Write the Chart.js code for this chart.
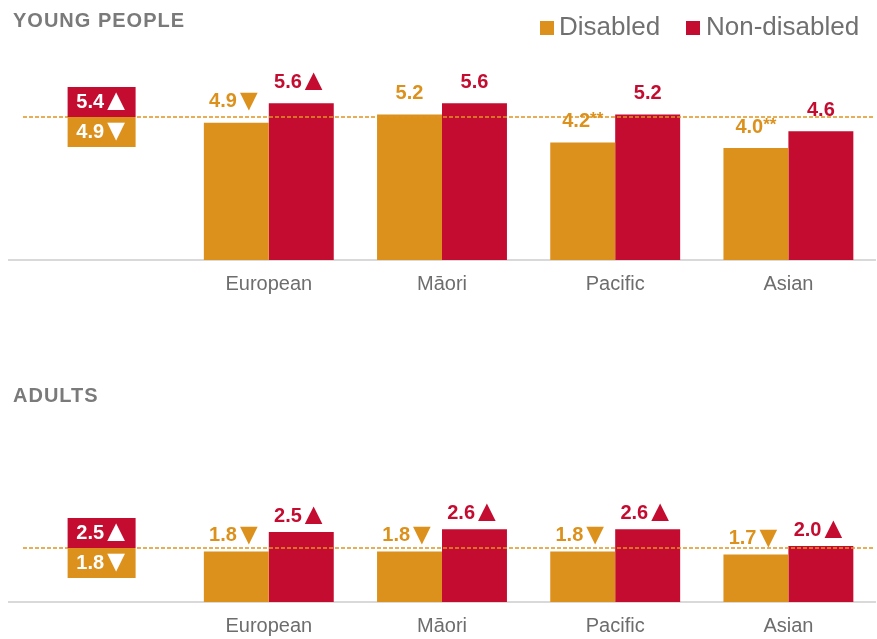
<!DOCTYPE html>
<html>
<head>
<meta charset="utf-8">
<script src="https://cdn.jsdelivr.net/npm/chart.js@4"></script>
<style>
    body { margin: 0; background: #fff; font-family: "Liberation Sans", Arial, sans-serif; }
    #page { position: relative; width: 877px; height: 639px; overflow: hidden; }
    .box { position: absolute; left: 0; width: 877px; height: 308px; }
    .title { position: absolute; left: 13px; font-weight: bold; font-size: 20px; letter-spacing: 1px; color: #7a7a7a; line-height: 24px; }
    .legend { position: absolute; top: 11px; font-size: 26px; color: #707070; line-height: 30px; }
    .swatch { position: absolute; top: 21px; width: 14px; height: 14px; }
</style>
</head>
<body>
<div id="page">
    <div class="box" style="top:0"><canvas id="youngChart" width="877" height="308"></canvas></div>
    <div class="box" style="top:342px"><canvas id="adultChart" width="877" height="308"></canvas></div>
    <div class="title" style="top:8px">YOUNG PEOPLE</div>
    <div class="title" style="top:383px">ADULTS</div>
    <div id="legend"></div>
</div>
<script>
// categories (first slot holds the overall boxes)
const categories = ['', 'European', 'Māori', 'Pacific', 'Asian']
const seriesNames = ['Disabled', 'Non-disabled']
const colors = ['#DC911C', '#C40C30']

// young people
const youngDisabled = [null, 4.9, 5.2, 4.2, 4.0]
const youngNonDisabled = [null, 5.6, 5.6, 5.2, 4.6]
const youngDisabledMarks = ['', '▼', '', '**', '**']
const youngNonDisabledMarks = ['', '▲', '', '', '']
const youngOverall = [4.9, 5.4]
const youngOverallMarks = ['▼', '▲']
const youngAverage = 5.1

// adults
const adultDisabled = [null, 1.8, 1.8, 1.8, 1.7]
const adultNonDisabled = [null, 2.5, 2.6, 2.6, 2.0]
const adultDisabledMarks = ['', '▼', '▼', '▼', '▼']
const adultNonDisabledMarks = ['', '▲', '▲', '▲', '▲']
const adultOverall = [1.8, 2.5]
const adultOverallMarks = ['▼', '▲']
const adultAverage = 1.93

const FONT = '"Liberation Sans", Arial, sans-serif'

// legend
const legend = document.getElementById('legend')
const legendX = [[540, 559], [686, 706]]
seriesNames.forEach((name, i) => {
    const sw = document.createElement('div')
    sw.className = 'swatch'
    sw.style.left = legendX[i][0] + 'px'
    sw.style.background = colors[i]
    legend.appendChild(sw)
    const t = document.createElement('div')
    t.className = 'legend'
    t.style.left = legendX[i][1] + 'px'
    t.textContent = name
    legend.appendChild(t)
})

function drawLabel(ctx, x, y, value, mark, color) {
    const num = value.toFixed(1)
    ctx.font = 'bold 20px ' + FONT
    const w1 = ctx.measureText(num).width
    let w2 = 0
    const gap = -3
    if (mark === '**') {
        ctx.font = 'bold 17px ' + FONT
        w2 = ctx.measureText(mark).width
    } else if (mark) {
        ctx.font = 'bold 30px ' + FONT
        w2 = ctx.measureText(mark).width + gap
    }
    const start = x - (w1 + w2) / 2
    ctx.fillStyle = color
    ctx.textAlign = 'left'
    ctx.textBaseline = 'middle'
    ctx.font = 'bold 20px ' + FONT
    ctx.fillText(num, start, y)
    if (mark === '**') {
        ctx.font = 'bold 17px ' + FONT
        ctx.fillText(mark, start + w1, y - 2)
    } else if (mark) {
        ctx.font = 'bold 30px ' + FONT
        ctx.fillText(mark, start + w1 + gap, y)
    }
}

const labelPlugin = {
    id: 'labels',
    afterDatasetsDraw(chart, args, opts) {
        const ctx = chart.ctx
        const area = chart.chartArea
        const x = chart.scales.x
        const y = chart.scales.y
        const lineY = Math.round(y.getPixelForValue(opts.average))

        ctx.save()
        // dashed average line
        ctx.strokeStyle = '#E0941F'
        ctx.lineWidth = 1.5
        ctx.setLineDash([4, 2])
        ctx.beginPath()
        ctx.moveTo(area.left + 14, lineY)
        ctx.lineTo(area.right, lineY)
        ctx.stroke()
        ctx.setLineDash([])

        // overall boxes
        const cx = x.getPixelForValue(0) + 6
        const bw = 68, bh = 30
        ctx.fillStyle = colors[1]
        ctx.fillRect(cx - bw / 2, lineY - bh, bw, bh)
        ctx.fillStyle = colors[0]
        ctx.fillRect(cx - bw / 2, lineY, bw, bh)
        drawLabel(ctx, cx + 2, lineY - bh / 2, opts.overall[1], opts.overallMarks[1], '#fff')
        drawLabel(ctx, cx + 2, lineY + bh / 2, opts.overall[0], opts.overallMarks[0], '#fff')

        // value labels above bars
        chart.data.datasets.forEach((ds, di) => {
            const meta = chart.getDatasetMeta(di)
            meta.data.forEach((bar, i) => {
                if (ds.data[i] == null) return
                drawLabel(ctx, bar.x, bar.y - opts.offset, ds.data[i], ds.marks[i], colors[di])
            })
        })
        ctx.restore()
    }
}

function makeChart(id, disabled, nonDisabled, dMarks, nMarks, overall, overallMarks, average, offset) {
    return new Chart(id, {
        type: 'bar',
        data: {
            labels: categories,
            datasets: [{
                label: seriesNames[0],
                data: disabled,
                marks: dMarks,
                backgroundColor: colors[0]
            }, {
                label: seriesNames[1],
                data: nonDisabled,
                marks: nMarks,
                backgroundColor: colors[1]
            }]
        },
        options: {
            responsive: false,
            animation: false,
            layout: { padding: { top: 8, left: 9, right: 2, bottom: 0 } },
            datasets: { bar: { categoryPercentage: 0.75, barPercentage: 1.0 } },
            plugins: {
                legend: { display: false },
                tooltip: { enabled: false },
                labels: { overall: overall, overallMarks: overallMarks, average: average, offset: offset }
            },
            scales: {
                y: { display: false, min: 0, max: 9 },
                x: {
                    grid: { display: false, drawTicks: false },
                    border: { color: '#d9d9d9', width: 2 },
                    ticks: {
                        color: '#6d6d6d',
                        font: { family: FONT, size: 20 },
                        padding: 12,
                        autoSkip: false,
                        maxRotation: 0
                    }
                }
            }
        },
        plugins: [labelPlugin]
    })
}

makeChart('youngChart', youngDisabled, youngNonDisabled, youngDisabledMarks, youngNonDisabledMarks,
    youngOverall, youngOverallMarks, youngAverage, 21)
makeChart('adultChart', adultDisabled, adultNonDisabled, adultDisabledMarks, adultNonDisabledMarks,
    adultOverall, adultOverallMarks, adultAverage, 16)
</script>
</body>
</html>
